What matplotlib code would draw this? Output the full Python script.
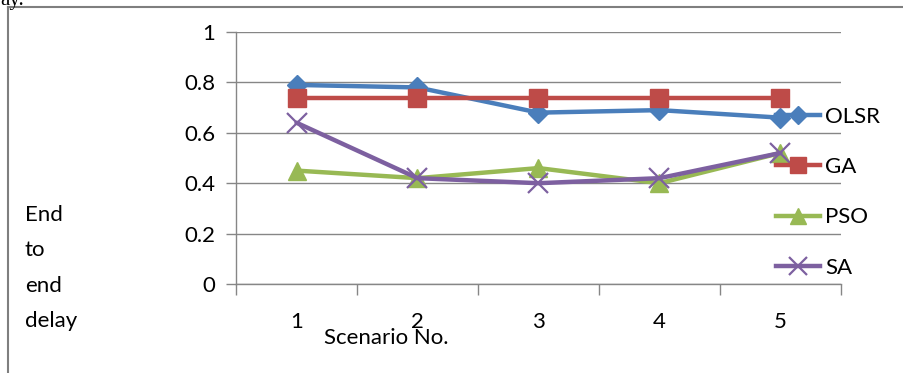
import matplotlib
matplotlib.use("Agg")
import matplotlib.pyplot as plt
from matplotlib.lines import Line2D

scenarios = [1, 2, 3, 4, 5]
olsr = [0.79, 0.78, 0.68, 0.69, 0.66]
ga = [0.74, 0.74, 0.74, 0.74, 0.74]
pso = [0.45, 0.42, 0.46, 0.40, 0.52]
sa = [0.64, 0.42, 0.40, 0.42, 0.52]
series_names = ["OLSR", "GA", "PSO", "SA"]
y_ticks = [0, 0.2, 0.4, 0.6, 0.8, 1]

plt.rcParams["font.family"] = ["Lato", "DejaVu Sans"]

fig = plt.figure(figsize=(9.04, 3.73), dpi=100)
W, H = 904, 373
ax = fig.add_axes([236 / W, 1 - 284 / H, (841 - 236) / W, (284 - 32) / H])

styles = [
    (olsr, "#4A7EBB", "D", 10, 1.0),
    (ga, "#BE4B48", "s", 13, 1.0),
    (pso, "#98B954", "^", 13, 1.0),
    (sa, "#7D60A0", "x", 14, 1.6),
]
handles = []
for (vals, col, mk, ms, mew), name in zip(styles, series_names):
    ax.plot(scenarios, vals, color=col, lw=3.2, marker=mk, markersize=ms,
            markeredgewidth=mew, markeredgecolor=col, markerfacecolor=col,
            solid_capstyle="round", zorder=3)
    handles.append(Line2D([], [], color=col, lw=3.2, marker=mk, markersize=ms * 0.9,
                          markeredgewidth=mew, markerfacecolor=col,
                          markeredgecolor=col, label=name))

ax.set_xlim(0.5, 5.5)
ax.set_ylim(0, 1)
ax.set_yticks(y_ticks)
ax.set_yticklabels(["0", "0.2", "0.4", "0.6", "0.8", "1"], fontsize=16)
ax.set_xticks(scenarios)
ax.set_xticklabels([str(s) for s in scenarios], fontsize=16)
ax.set_xticks([0.5, 1.5, 2.5, 3.5, 4.5, 5.5], minor=True)
ax.tick_params(axis="x", which="major", length=0, pad=20)
ax.tick_params(axis="x", which="minor", length=8, color="#868686", width=1)
ax.tick_params(axis="y", length=7, color="#868686", width=1, pad=8)
ax.grid(axis="y", color="#868686", lw=1)
ax.set_axisbelow(True)
for s in ["top", "right"]:
    ax.spines[s].set_visible(False)
for s in ["left", "bottom"]:
    ax.spines[s].set_color("#868686")
    ax.spines[s].set_linewidth(1)

leg = ax.legend(handles=handles, loc="upper left", bbox_to_anchor=(776 / W, 1 - 107 / H),
                bbox_transform=fig.transFigure, frameon=False, fontsize=16,
                handlelength=2.0, handletextpad=0.2, labelspacing=1.36,
                borderpad=0, borderaxespad=0)

fig.text(386 / W, 1 - 338 / H, "Scenario No.", fontsize=16, ha="center", va="center")
fig.text(25 / W, 1 - 268 / H, "End\nto\nend\ndelay", fontsize=16, ha="left", va="center",
         linespacing=1.95)

# outer frame of the chart area
fig.add_artist(Line2D([8 / W, 1], [1 - 7 / H, 1 - 7 / H], transform=fig.transFigure,
                      color="#7f7f7f", lw=1.5))
fig.add_artist(Line2D([8 / W, 8 / W], [0, 1 - 7 / H], transform=fig.transFigure,
                      color="#7f7f7f", lw=1.5))
fig.text(0, 1 - 1 / H, "ay.", fontsize=15, family="Liberation Serif", va="center")

fig.savefig("out.png", dpi=100)
